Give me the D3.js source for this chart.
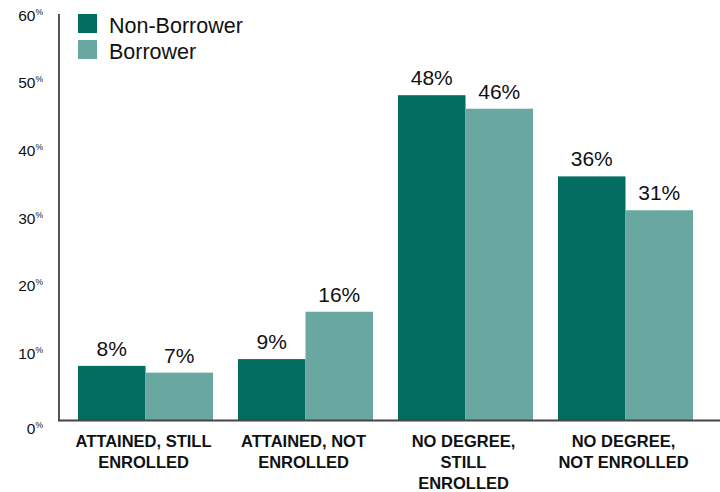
<!DOCTYPE html>
<html>
<head>
<meta charset="utf-8">
<script src="https://cdn.jsdelivr.net/npm/d3@7"></script>
<style>
  html, body { margin: 0; padding: 0; background: #fff; }
  svg { display: block; font-family: "Liberation Sans", Arial, Helvetica, sans-serif; }
</style>
</head>
<body>
<svg id="chart" width="720" height="492"></svg>
<script>
// Outcome categories (multi-line labels)
const categories = [
  ["ATTAINED, STILL", "ENROLLED"],
  ["ATTAINED, NOT", "ENROLLED"],
  ["NO DEGREE,", "STILL", "ENROLLED"],
  ["NO DEGREE,", "NOT ENROLLED"]
];
const seriesNames = ["Non-Borrower", "Borrower"];
const nonBorrower = [8, 9, 48, 36];
const borrower = [7, 16, 46, 31];
const yTicks = [0, 10, 20, 30, 40, 50, 60];

const colors = { "Non-Borrower": "#026c61", "Borrower": "#68a8a1" };

const svg = d3.select("#chart");
const W = 720, H = 492;
const plot = { left: 59, right: 711, top: 14, bottom: 420 };

const keys = categories.map((c, i) => i);
const x0 = d3.scaleBand()
  .domain(keys)
  .range([plot.left + 1, plot.right])
  .paddingInner(0.15625)
  .paddingOuter(0.1125);
const x1 = d3.scaleBand()
  .domain(seriesNames)
  .range([0, x0.bandwidth()])
  .padding(0);
const y = d3.scaleLinear().domain([0, 60]).range([plot.bottom, plot.top]);

const rows = keys.map(i => ({
  i,
  values: [
    { s: "Non-Borrower", v: nonBorrower[i] },
    { s: "Borrower", v: borrower[i] }
  ]
}));

// Bars
const groups = svg.append("g").selectAll("g")
  .data(rows).join("g")
  .attr("transform", d => `translate(${x0(d.i)},0)`);

groups.selectAll("rect")
  .data(d => d.values).join("rect")
  .attr("x", d => x1(d.s))
  .attr("y", d => y(d.v))
  .attr("width", x1.bandwidth())
  .attr("height", d => y(0) - y(d.v))
  .attr("fill", d => colors[d.s]);

// Value labels
groups.selectAll("text.val")
  .data(d => d.values).join("text")
  .attr("class", "val")
  .attr("x", d => x1(d.s) + x1.bandwidth() / 2)
  .attr("y", d => y(d.v) - 10)
  .attr("text-anchor", "middle")
  .attr("font-size", 21)
  .attr("fill", "#111")
  .text(d => d.v + "%");

// Y axis (line + labels, no tick marks)
const yAxis = d3.axisLeft(y).tickValues(yTicks).tickSize(0).tickPadding(0).tickFormat(d => d);
const yg = svg.append("g").attr("transform", `translate(${plot.left},0)`).call(yAxis);
yg.select(".domain").remove();
yg.selectAll(".tick text").remove();
yg.selectAll(".tick").each(function (d) {
  const t = d3.select(this).append("text")
    .attr("x", -16)
    .attr("y", d === 0 ? 13 : 6)
    .attr("text-anchor", "end")
    .attr("fill", "#111")
    .attr("font-size", 15.5);
  t.append("tspan").text(d);
  t.append("tspan").attr("font-size", 8.5).attr("dy", -6).text("%");
});
svg.append("line")
  .attr("x1", plot.left).attr("x2", plot.left)
  .attr("y1", plot.top).attr("y2", plot.bottom)
  .attr("stroke", "#555").attr("stroke-width", 2);

// Baseline
svg.append("line")
  .attr("x1", plot.left - 1).attr("x2", W)
  .attr("y1", plot.bottom + 0.5).attr("y2", plot.bottom + 0.5)
  .attr("stroke", "#444").attr("stroke-width", 2);

// X category labels
const xg = svg.append("g");
rows.forEach(r => {
  const cx = x0(r.i) + x0.bandwidth() / 2 - 2;
  const t = xg.append("text")
    .attr("x", cx)
    .attr("y", 446.5)
    .attr("text-anchor", "middle")
    .attr("font-size", 16.5)
    .attr("font-weight", "bold")
    .attr("fill", "#111");
  categories[r.i].forEach((line, k) => {
    t.append("tspan")
      .attr("x", cx)
      .attr("dy", k === 0 ? 0 : 21)
      .text(line);
  });
});

// Legend
const legend = svg.append("g").attr("transform", "translate(78,14)");
seriesNames.forEach((s, k) => {
  const g = legend.append("g").attr("transform", `translate(0,${k * 26})`);
  g.append("rect").attr("width", 19).attr("height", 19).attr("fill", colors[s]);
  g.append("text")
    .attr("x", 31).attr("y", 18.5)
    .attr("font-size", 21.5)
    .attr("fill", "#111")
    .text(s);
});
</script>
</body>
</html>
